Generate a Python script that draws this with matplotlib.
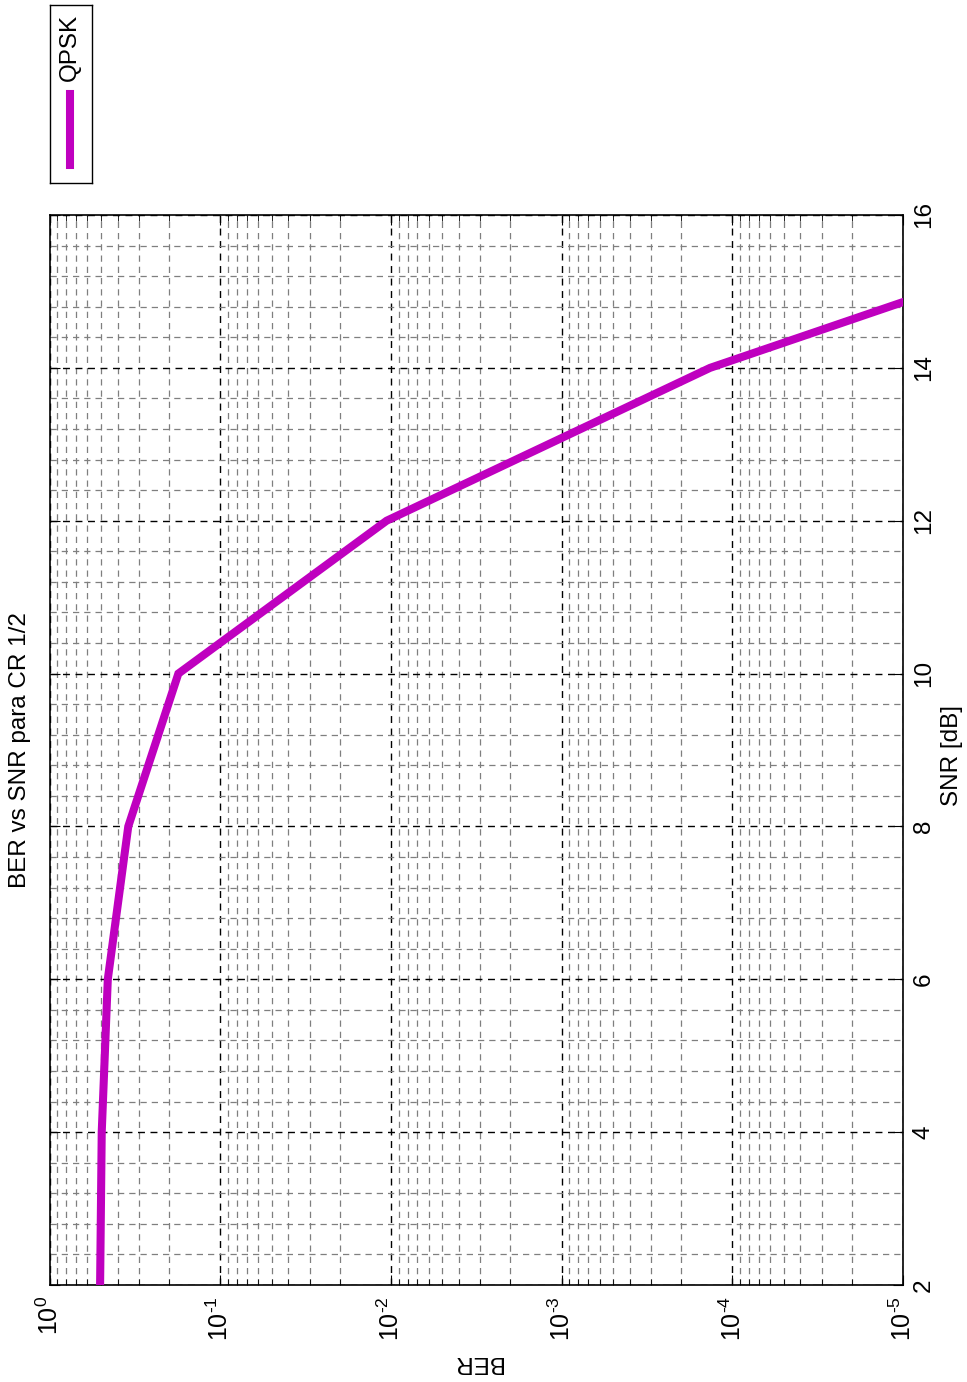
"""
BER vs SNR curve for QPSK, CR 1/2 (page laid out in landscape, turned on its side)
"""

import numpy as np
import matplotlib
matplotlib.use("Agg")
import matplotlib.pyplot as plt
from matplotlib.ticker import MultipleLocator, LogLocator, NullFormatter

plt.rcParams['font.family'] = ['Liberation Sans', 'DejaVu Sans']
plt.rcParams['mathtext.fontset'] = 'custom'
plt.rcParams['mathtext.rm'] = 'Liberation Sans'
plt.rcParams['mathtext.it'] = 'Liberation Sans'
plt.rcParams['axes.unicode_minus'] = False

# simulated points
snr_db = [2, 4, 6, 8, 10, 12, 14, 16]
ber_qpsk = [0.506, 0.495, 0.456, 0.346, 0.176, 0.0106, 1.35e-4, 3.2e-7]
series_name = 'QPSK'
ber_ticks = [1e0, 1e-1, 1e-2, 1e-3, 1e-4, 1e-5]
snr_ticks = [2, 4, 6, 8, 10, 12, 14, 16]

W, H = 967, 1382
fig = plt.figure(figsize=(W / 100, H / 100), dpi=100)

# main axes: BER runs left->right (decreasing), SNR runs bottom->top
ax = fig.add_axes([49.6 / W, 1 - 1285 / H, (903 - 49.6) / W, (1285 - 215) / H])
ax.plot(ber_qpsk, snr_db, color='#BF00BF', lw=5.8, solid_joinstyle='miter', zorder=5)

ax.set_xscale('log')
ax.set_xlim(1e0, 1e-5)
ax.set_ylim(2, 16)

ax.xaxis.set_minor_locator(LogLocator(base=10, subs=np.arange(2, 10), numticks=20))
ax.xaxis.set_minor_formatter(NullFormatter())
ax.set_xticks(ber_ticks)


def exp_label(v):
    e = int(round(np.log10(v)))
    if e < 0:
        return r'$\mathdefault{10^{\text{-}%d}}$' % (-e)
    return r'$\mathdefault{10^{%d}}$' % e


ax.set_xticklabels([exp_label(t) for t in ber_ticks])

ax.set_yticks(snr_ticks)
ax.yaxis.set_minor_locator(MultipleLocator(0.4))
ax.yaxis.tick_right()

ax.tick_params(axis='x', which='major', direction='in', length=7, width=0.8,
               labelsize=18, labelrotation=90, pad=8, top=True)
ax.tick_params(axis='x', which='minor', direction='in', length=4, width=0.6, top=True)
ax.tick_params(axis='y', which='major', direction='in', length=7, width=0.8,
               labelsize=17.5, labelrotation=90, pad=7, left=True, right=True)
ax.tick_params(axis='y', which='minor', direction='in', length=0)
for lab in ax.get_yticklabels():
    lab.set_verticalalignment('center')
for lab in ax.get_xticklabels():
    lab.set_horizontalalignment('center')

ax.grid(True, which='major', color='black', lw=1.0, linestyle=(0, (5, 4)))
ax.grid(True, which='minor', color='#7f7f7f', lw=0.9, linestyle=(0, (5, 4)))
ax.set_axisbelow(True)
for sp in ax.spines.values():
    sp.set_linewidth(1.2)

# titles and axis labels
fig.text(20 / W, 1 - 750 / H, 'BER vs SNR para CR 1/2', rotation=90,
         ha='center', va='center', fontsize=17.5)
fig.text(952 / W, 1 - 755 / H, 'SNR [dB]', rotation=90,
         ha='center', va='center', fontsize=17.5)
fig.text(477 / W, 1 - 1362 / H, 'BER', rotation=180,
         ha='center', va='center', fontsize=17.5)

# legend box drawn on its own small axes so it can be turned
lg = fig.add_axes([50 / W, 1 - 183 / H, 42 / W, 178 / H])
lg.set_xlim(0, 1)
lg.set_ylim(0, 1)
lg.set_xticks([])
lg.set_yticks([])
for sp in lg.spines.values():
    sp.set_linewidth(1.0)
lg.plot([0.48, 0.48], [0.1, 0.5], color='#BF00BF', lw=5.8)
lg.text(0.48, 0.76, series_name, rotation=90, ha='center', va='center', fontsize=17.5)

fig.savefig('out.png', dpi=100, facecolor='white')
